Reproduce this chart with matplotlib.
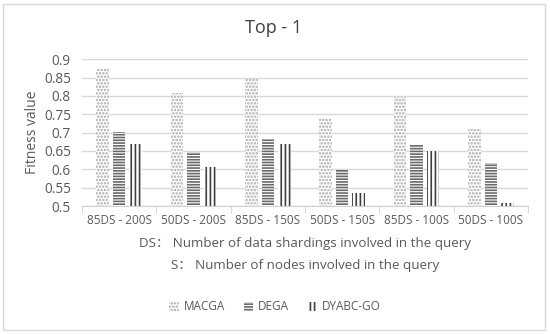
import matplotlib
matplotlib.use("Agg")
import matplotlib.pyplot as plt
import numpy as np
from matplotlib.patches import Rectangle

categories = ["85DS - 200S", "50DS - 200S", "85DS - 150S", "50DS - 150S", "85DS - 100S", "50DS - 100S"]
macga = [0.877, 0.807, 0.845, 0.740, 0.797, 0.709]
dega = [0.701, 0.648, 0.684, 0.598, 0.670, 0.617]
dyabc = [0.670, 0.606, 0.669, 0.535, 0.650, 0.508]
yticks = [0.5, 0.55, 0.6, 0.65, 0.7, 0.75, 0.8, 0.85, 0.9]
ytick_labels = ["0.5", "0.55", "0.6", "0.65", "0.7", "0.75", "0.8", "0.85", "0.9"]

plt.rcParams['font.family'] = ['Open Sans', 'DejaVu Sans']
plt.rcParams['hatch.linewidth'] = 1.2

fig = plt.figure(figsize=(5.5, 3.34), dpi=100)
ax = fig.add_axes([82/550, 1-206/334, (528-82)/550, (206-59.3)/334])

x = np.arange(len(categories))
w = 0.17
sp = 0.222
txtc = '#595959'

ax.bar(x - sp, [v - 0.5 for v in macga], w, bottom=0.5, facecolor='white', edgecolor='#a8a8a8', hatch='.....', linewidth=0, label='MACGA')
ax.bar(x, [v - 0.5 for v in dega], w, bottom=0.5, facecolor='white', edgecolor='#6a6a6a', hatch='------', linewidth=0, label='DEGA')
ax.bar(x + sp, [v - 0.5 for v in dyabc], w, bottom=0.5, facecolor='white', edgecolor='#404040', hatch='||||', linewidth=0, label='DYABC-GO')

ax.set_xlim(-0.5, len(categories) - 0.5)
ax.set_ylim(0.5, 0.9)
ax.set_yticks(yticks)
ax.set_yticklabels(ytick_labels, color=txtc, fontsize=9.8)
ax.yaxis.grid(True, color='#d9d9d9', linewidth=1)
ax.set_axisbelow(True)
for s in ['top', 'right', 'left']:
    ax.spines[s].set_visible(False)
ax.spines['bottom'].set_color('#d0d0d0')
ax.tick_params(axis='y', length=0, pad=8)
ax.set_xticks(x)
ax.set_xticklabels(categories, color=txtc, fontsize=8.5)
ax.tick_params(axis='x', length=0, pad=6)
ax.set_xticks(np.arange(len(categories) + 1) - 0.5, minor=True)
ax.tick_params(axis='x', which='minor', length=5, color='#d0d0d0')

ax.set_ylabel("Fitness value", color=txtc, fontsize=10, labelpad=3)

fig.text(274/550, 1-28/334, "Top - 1", ha='center', va='center', fontsize=13, color='#404040')
fig.text(305/550, 1-243/334, "DS\uff1a Number of data shardings involved in the query", ha='center', va='center', fontsize=9.6, color=txtc,
         family=['Open Sans', 'Noto Sans CJK SC'])
fig.text(305/550, 1-265/334, "S\uff1a Number of nodes involved in the query", ha='center', va='center', fontsize=9.6, color=txtc,
         family=['Open Sans', 'Noto Sans CJK SC'])

leg = fig.legend(loc='center', bbox_to_anchor=(275/550, 1-307/334), ncol=3, frameon=False, fontsize=8.5,
                 handlelength=0.8, handleheight=0.8, columnspacing=1.6, handletextpad=0.4, labelcolor=txtc)

fig.patches.append(Rectangle((0.0055, 0.012), 0.985, 0.976, transform=fig.transFigure, fill=False, edgecolor='#d9d9d9', linewidth=1))

fig.savefig("out.png", dpi=100)
